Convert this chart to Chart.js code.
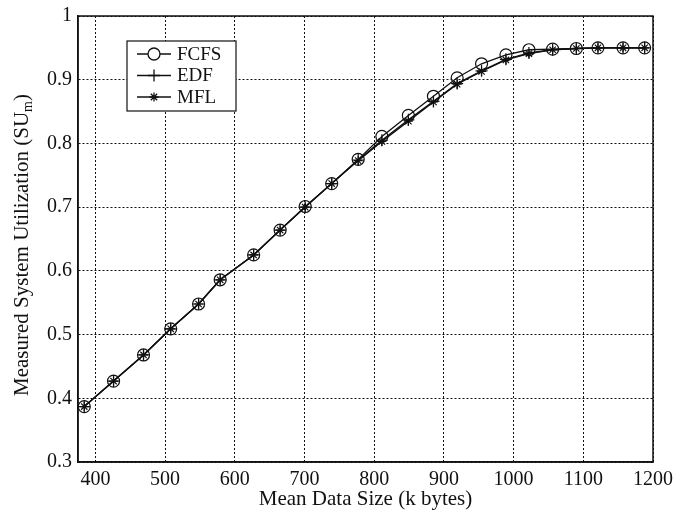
<!DOCTYPE html>
<html>
<head>
<meta charset="utf-8">
<script src="https://cdn.jsdelivr.net/npm/chart.js@4.4.1/dist/chart.umd.min.js"></script>
<style>
    html, body { margin: 0; padding: 0; background: #fff; }
    #wrap { width: 688px; height: 514px; }
</style>
</head>
<body>
<div id="wrap"><canvas id="utilChart" width="688" height="514"></canvas></div>
<script>
// ===== Data =====
const dataSizes = [384, 426, 469, 508, 548, 579, 627, 665, 701, 739, 777, 811, 849, 885, 919, 954, 989, 1022, 1056, 1090, 1121, 1157, 1188];
const fcfsUtil = [0.387, 0.427, 0.468, 0.509, 0.548, 0.586, 0.625, 0.664, 0.701, 0.737, 0.775, 0.811, 0.844, 0.874, 0.903, 0.925, 0.939, 0.947, 0.948, 0.949, 0.950, 0.950, 0.950];
const edfUtil  = [0.387, 0.427, 0.468, 0.509, 0.548, 0.586, 0.625, 0.664, 0.700, 0.737, 0.774, 0.805, 0.837, 0.866, 0.894, 0.914, 0.932, 0.942, 0.947, 0.949, 0.950, 0.950, 0.950];
const mflUtil  = [0.387, 0.427, 0.468, 0.509, 0.548, 0.586, 0.625, 0.664, 0.700, 0.737, 0.773, 0.803, 0.835, 0.865, 0.893, 0.913, 0.931, 0.941, 0.947, 0.949, 0.950, 0.950, 0.950];
const xTicks = [400, 500, 600, 700, 800, 900, 1000, 1100, 1200];
const yTicks = [0.3, 0.4, 0.5, 0.6, 0.7, 0.8, 0.9, 1];

const serif = "'Liberation Serif', 'Times New Roman', serif";

function toPoints(ys) {
    return dataSizes.map((x, i) => ({ x: x, y: ys[i] }));
}

function series(label, ys, style, radius) {
    return {
        label: label,
        data: toPoints(ys),
        showLine: true,
        borderColor: '#111',
        borderWidth: 1.3,
        backgroundColor: 'rgba(0,0,0,0)',
        pointStyle: style,
        pointRadius: radius,
        pointBorderColor: '#111',
        pointBorderWidth: 1.2,
        pointBackgroundColor: 'rgba(0,0,0,0)',
        tension: 0
    };
}

// ===== Box, y title and legend drawn on top =====
const framePlugin = {
    id: 'frame',
    afterDraw(chart) {
        const ctx = chart.ctx;
        const a = chart.chartArea;
        ctx.save();
        ctx.strokeStyle = '#111';
        ctx.lineWidth = 1.5;
        ctx.strokeRect(a.left, a.top, a.right - a.left, a.bottom - a.top);

        // y title with subscript
        const main = 'Measured System Utilization (SU';
        ctx.translate(22, (a.top + a.bottom) / 2 + 6);
        ctx.rotate(-Math.PI / 2);
        ctx.fillStyle = '#111';
        ctx.textBaseline = 'middle';
        ctx.font = '21px ' + serif;
        const w1 = ctx.measureText(main).width;
        ctx.font = '14px ' + serif;
        const w2 = ctx.measureText('m').width;
        ctx.font = '21px ' + serif;
        const w3 = ctx.measureText(')').width;
        let x0 = -(w1 + w2 + w3) / 2;
        ctx.textAlign = 'left';
        ctx.fillText(main, x0, 0);
        ctx.font = '14px ' + serif;
        ctx.fillText('m', x0 + w1, 6);
        ctx.font = '21px ' + serif;
        ctx.fillText(')', x0 + w1 + w2, 0);
        ctx.restore();

        // legend box
        const lx = 127, ly = 41, lw = 109, lh = 70;
        ctx.save();
        ctx.fillStyle = '#fff';
        ctx.fillRect(lx, ly, lw, lh);
        ctx.strokeStyle = '#111';
        ctx.lineWidth = 1.2;
        ctx.strokeRect(lx, ly, lw, lh);
        chart.data.datasets.forEach((ds, i) => {
            const cy = ly + 13 + i * 21.5;
            ctx.beginPath();
            ctx.moveTo(lx + 10, cy);
            ctx.lineTo(lx + 44, cy);
            ctx.strokeStyle = '#111';
            ctx.lineWidth = 1.3;
            ctx.stroke();
            Chart.helpers.drawPoint(ctx, {
                pointStyle: ds.pointStyle,
                radius: ds.pointRadius,
                borderWidth: ds.pointBorderWidth
            }, lx + 27, cy);
            ctx.fillStyle = '#111';
            ctx.font = '19px ' + serif;
            ctx.textAlign = 'left';
            ctx.textBaseline = 'middle';
            ctx.fillText(ds.label, lx + 50, cy + 1);
        });
        ctx.restore();
    }
};

// ===== Chart =====
new Chart(document.getElementById('utilChart'), {
    type: 'scatter',
    data: {
        datasets: [
            series('FCFS', fcfsUtil, 'circle', 6),
            series('EDF', edfUtil, 'cross', 6),
            series('MFL', mflUtil, 'star', 4.5)
        ]
    },
    options: {
        responsive: false,
        animation: false,
        devicePixelRatio: 1,
        layout: { padding: { top: 9, right: 35, bottom: 0, left: 0 } },
        plugins: {
            legend: { display: false },
            tooltip: { enabled: false }
        },
        scales: {
            x: {
                type: 'linear',
                min: 375,
                max: 1200,
                afterBuildTicks: (scale) => { scale.ticks = xTicks.map(v => ({ value: v })); },
                afterFit: (scale) => { scale.height = 52; },
                grid: { color: '#111', lineWidth: 1, drawTicks: false },
                border: { color: '#111', width: 1.5, dash: [2, 2] },
                ticks: {
                    color: '#111',
                    padding: 8,
                    maxRotation: 0,
                    font: { family: serif, size: 20, lineHeight: 1 },
                    callback: (v) => String(v)
                },
                title: {
                    display: true,
                    text: 'Mean Data Size (k bytes)',
                    color: '#111',
                    padding: { top: 0, bottom: 2 },
                    font: { family: serif, size: 21 }
                }
            },
            y: {
                min: 0.3,
                max: 1,
                afterBuildTicks: (scale) => { scale.ticks = yTicks.map(v => ({ value: v })); },
                afterFit: (scale) => { scale.width = 78; },
                grid: { color: '#111', lineWidth: 1, drawTicks: false },
                border: { color: '#111', width: 1.5, dash: [2, 2] },
                ticks: {
                    color: '#111',
                    padding: 6,
                    font: { family: serif, size: 20, lineHeight: 1 },
                    callback: (v) => String(Math.round(v * 10) / 10)
                }
            }
        }
    },
    plugins: [framePlugin]
});
</script>
</body>
</html>
